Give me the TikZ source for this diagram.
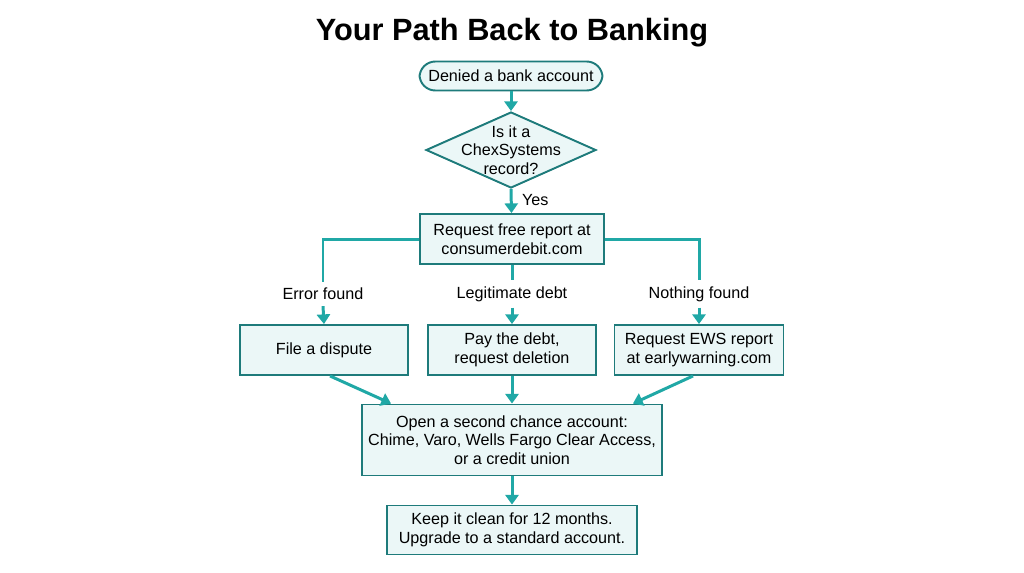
\documentclass[tikz,border=0pt]{standalone}
\usepackage{fontspec}
\setmainfont{Liberation Sans}
\usetikzlibrary{shapes.geometric,arrows.meta}
\definecolor{tealline}{HTML}{1E7B7B}
\definecolor{tealarrow}{HTML}{20A8A6}
\definecolor{tealfill}{HTML}{EBF7F7}
\begin{document}
\begin{tikzpicture}[x=0.02cm,y=-0.02cm,font=\fontsize{9.2}{10.6}\selectfont,
  box/.style={draw=tealline,fill=tealfill,line width=1.1pt,align=center,inner sep=0pt},
  dec/.style={diamond,draw=tealline,fill=tealfill,line width=1.1pt,inner sep=0pt,minimum width=3.4cm,minimum height=1.52cm},
  flow/.style={draw=tealarrow,line width=1.7pt,-{Triangle[width=7.5pt,length=5.5pt]}},
  link/.style={draw=tealarrow,line width=1.7pt}]
\useasboundingbox (0,0) rectangle (1024,572);
\node (title) at (512,33) {\fontsize{17.5}{20}\selectfont\bfseries Your Path Back to Banking};
% start and check
\node[box,rounded corners=9pt,minimum width=3.66cm,minimum height=0.58cm] (deny) at (511,76) {Denied a bank account};
\node[dec] (chk) at (511,150) {};
\node[align=center] (chkt) at (511,150) {Is it a\\ChexSystems\\record?};
\node[box,minimum width=3.68cm,minimum height=1cm] (rq) at (512,239) {Request free report at\\consumerdebit.com};
\draw[flow] (deny) -- (chk);
\draw[flow] (chk.south) -- (rq) node[pos=0.45,right,xshift=2pt] {Yes};
% the three outcomes
\node (err) at (323,294) {Error found};
\node (leg) at (512,294) {Legitimate debt};
\node (none) at (699,294) {Nothing found};
\node[box,minimum width=3.36cm,minimum height=1cm] (fd) at (324,350) {File a dispute};
\node[box,minimum width=3.36cm,minimum height=1cm] (pay) at (512,350) {Pay the debt,\\request deletion};
\node[box,minimum width=3.38cm,minimum height=1cm] (ews) at (699,350) {Request EWS report\\at earlywarning.com};
\draw[link] (rq.west) -| (err.north);
\draw[link] (rq.south) -- (leg.north);
\draw[link] (rq.east) -| (none.north);
\draw[flow] (err.south) -- (fd.north);
\draw[flow] (leg.south) -- (pay.north);
\draw[flow] (none.south) -- (ews.north);
% second chance and after
\node[box,minimum width=6cm,minimum height=1.42cm] (open) at (512,440) {Open a second chance account:\\Chime, Varo, Wells Fargo Clear Access,\\or a credit union};
\node[box,minimum width=5cm,minimum height=0.98cm] (keep) at (512,530) {Keep it clean for 12 months.\\Upgrade to a standard account.};
\draw[flow] ([xshift=0.12cm]fd.south) -- ([xshift=0.6cm]open.north west);
\draw[flow] (pay) -- (open);
\draw[flow] ([xshift=-0.12cm]ews.south) -- ([xshift=-0.6cm]open.north east);
\draw[flow] (open) -- (keep);
\end{tikzpicture}
\end{document}
